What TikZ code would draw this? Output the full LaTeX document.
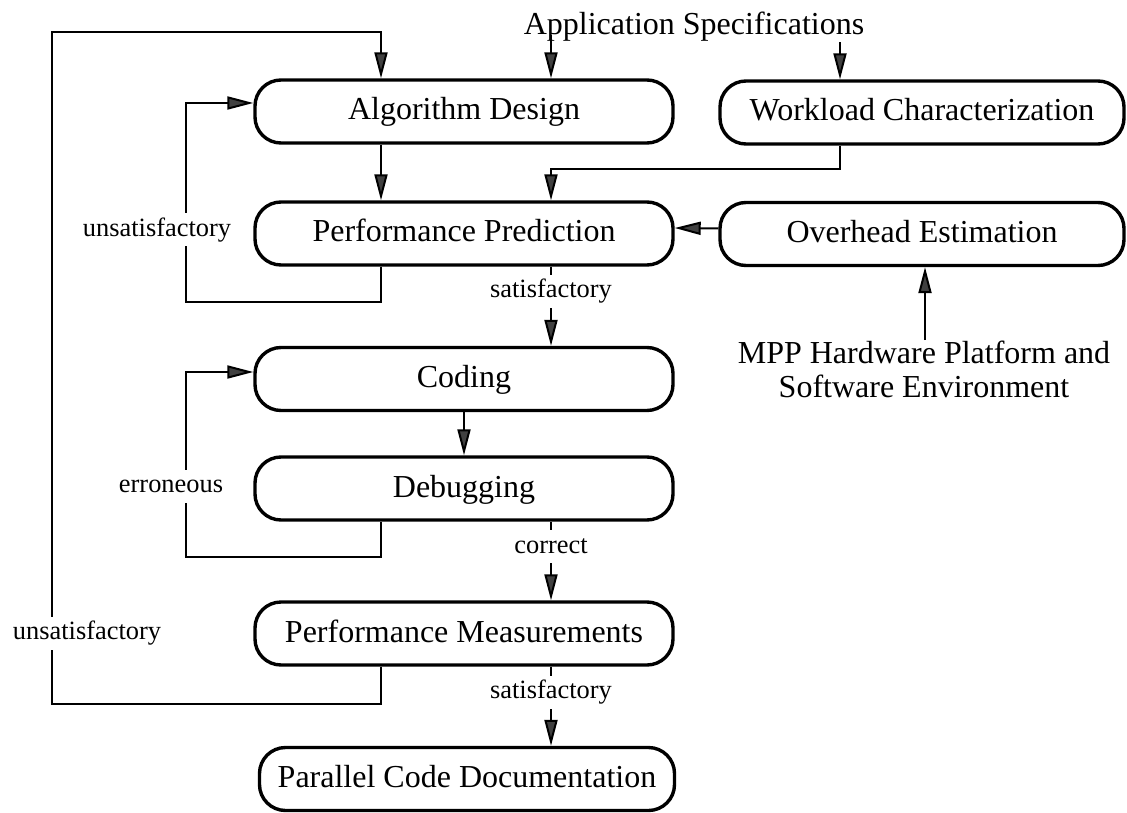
\documentclass[tikz,border=0pt]{standalone}
\usepackage{fontspec}
\setmainfont{Liberation Serif}
\usetikzlibrary{arrows.meta}
\begin{document}
\begin{tikzpicture}[x=0.5pt,y=-0.5pt,
  box/.style={draw, line width=1.7pt, rounded corners=13pt, minimum height=31.5pt, inner sep=0pt,
    font=\fontsize{16}{19}\selectfont, text height=11.5pt, text depth=3pt},
  lbox/.style={box, minimum width=209pt},
  rbox/.style={box, minimum width=202pt},
  conn/.style={line width=1pt},
  arr/.style={conn, -{Triangle[length=13pt,width=6.5pt,fill=black!75]}},
  lbl/.style={font=\fontsize{13.2}{15}\selectfont, fill=white, inner sep=2.5pt, text height=9pt, text depth=2.5pt},
  txt/.style={font=\fontsize{16}{17}\selectfont, inner sep=0pt}
]
\useasboundingbox (0,0) rectangle (1127,812);

% boxes
\node[lbox] (AD) at (464,111.5) {Algorithm Design};
\node[rbox] (WC) at (922,112.5) {Workload Characterization};
\node[lbox] (PP) at (464,233.5) {Performance Prediction};
\node[rbox] (OE) at (922,234) {Overhead Estimation};
\node[lbox] (CO) at (464,379) {Coding};
\node[lbox] (DB) at (464,488.5) {Debugging};
\node[lbox] (PM) at (464,633.5) {Performance Measurements};
\node[box, minimum width=207.5pt] (PCD) at (467,779) {Parallel Code Documentation};

% free texts
\node[txt, anchor=base] (app) at (694,35) {Application Specifications};
\node[txt, align=center] (mpp) at (924,369) {MPP Hardware Platform and\\Software Environment};

% connector columns
\coordinate (cL) at (381,0);
\coordinate (cR) at (551,0);
\coordinate (cW) at (840,0);
\coordinate (cM) at (925,0);

% connectors
\draw[arr] (app.base -| cR) -- (AD.north -| cR);
\draw[arr] (app.south -| cW) -- (WC.north -| cW);
\draw[arr] (AD.south -| cL) -- (PP.north -| cL);
\draw[arr] (WC.south -| cW) -- ++(0,23) -| (PP.north -| cR);
\draw[arr] ([yshift=2.75pt]OE.west) -- ([yshift=2.75pt]PP.east);
\draw[arr] (PP.south -| cL) -- ++(0,35) -| (186,103) -- ([yshift=4.25pt]AD.west);
\draw[arr] (PP.south -| cR) -- node[lbl,pos=0.31] (s1) {satisfactory} (CO.north -| cR);
\draw[arr] (CO.south) -- (DB.north);
\draw[arr] (DB.south -| cL) -- ++(0,35) -| (186,372) -- ([yshift=3.5pt]CO.west);
\draw[arr] (DB.south -| cR) -- node[lbl,pos=0.32] (c1) {correct} (PM.north -| cR);
\draw[arr] (PM.south -| cL) -- ++(0,37) -| (52,32) -| (AD.north -| cL);
\draw[arr] (PM.south -| cR) -- node[lbl,pos=0.32] (s2) {satisfactory} (PCD.north -| cR);
\draw[arr] (mpp.north -| cM) -- (OE.south -| cM);

% loop labels
\node[lbl] (u1) at (157,230) {unsatisfactory};
\node[lbl] (e1) at (171,486) {erroneous};
\node[lbl] (u2) at (87,633) {unsatisfactory};
\end{tikzpicture}
\end{document}
